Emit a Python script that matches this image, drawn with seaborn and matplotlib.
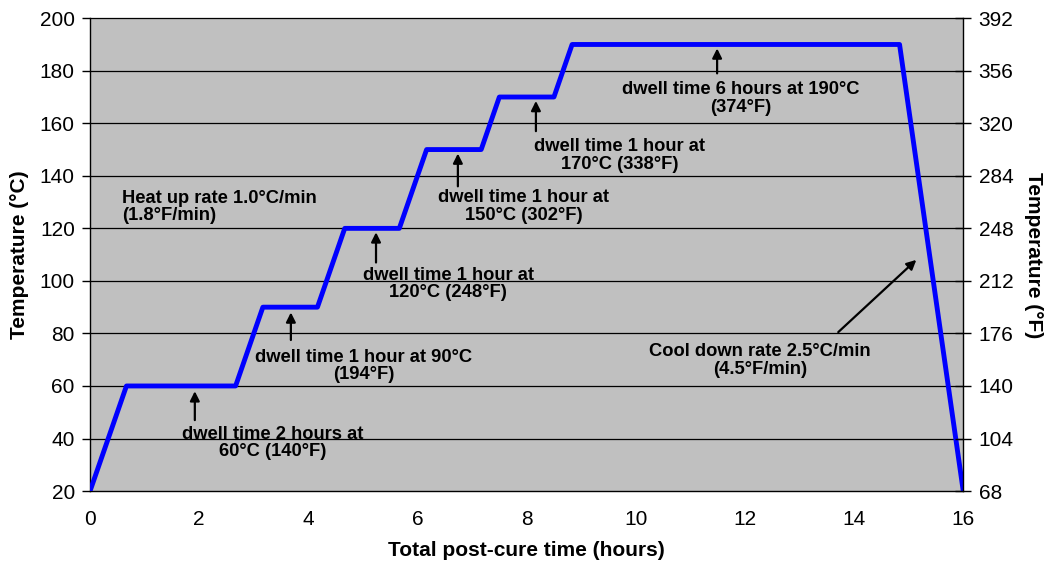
import matplotlib
matplotlib.use("Agg")
import matplotlib.pyplot as plt
import seaborn as sns
import pandas as pd
import numpy as np

# Data
time_h = [0, 0.667, 2.667, 3.167, 4.167, 4.667, 5.667, 6.167, 7.167, 7.5, 8.5, 8.833, 14.833, 16.0]
temp_c = [20, 60, 60, 90, 90, 120, 120, 150, 150, 170, 170, 190, 190, 20]
yticks_c = [20, 40, 60, 80, 100, 120, 140, 160, 180, 200]
yticks_f = [68, 104, 140, 176, 212, 248, 284, 320, 356, 392]
xticks = [0, 2, 4, 6, 8, 10, 12, 14, 16]

# annotations: text, text position, arrow tail, arrow head
notes = [
    ("dwell time 2 hours at\n60°C (140°F)", (3.34, 38.3), (1.92, 47), (1.92, 58)),
    ("dwell time 1 hour at 90°C\n(194°F)", (5.02, 67.6), (3.68, 77.5), (3.68, 88)),
    ("dwell time 1 hour at\n120°C (248°F)", (6.56, 98.8), (5.24, 107), (5.24, 118.5)),
    ("dwell time 1 hour at\n150°C (302°F)", (7.94, 128.4), (6.74, 136), (6.74, 148.5)),
    ("dwell time 1 hour at\n170°C (338°F)", (9.7, 147.7), (8.17, 157), (8.17, 168.5)),
    ("dwell time 6 hours at 190°C\n(374°F)", (11.93, 169.4), (11.49, 179), (11.49, 188.5)),
    ("Cool down rate 2.5°C/min\n(4.5°F/min)", (12.28, 69.8), (13.71, 80.5), (15.14, 108)),
]
heat_text = "Heat up rate 1.0°C/min\n(1.8°F/min)"

sns.set_style("white")
plt.rcParams['font.family'] = ['Liberation Sans', 'DejaVu Sans']
plt.rcParams['text.color'] = 'black'
plt.rcParams['axes.labelcolor'] = 'black'
plt.rcParams['xtick.color'] = 'black'
plt.rcParams['ytick.color'] = 'black'

fig = plt.figure(figsize=(10.47, 5.69), dpi=100)
ax = fig.add_axes([0.086, 0.137, 0.834, 0.831])
ax.set_facecolor("#C0C0C0")

df = pd.DataFrame({"t": time_h, "T": temp_c})
sns.lineplot(data=df, x="t", y="T", ax=ax, color="#0000FF", linewidth=3.5, sort=False, zorder=3)

ax.set_xlim(0, 16)
ax.set_ylim(20, 200)
ax.set_xticks(xticks)
ax.set_yticks(yticks_c)
for y in yticks_c[1:]:
    ax.axhline(y, color="black", linewidth=0.9, zorder=1, clip_on=False)

for sp in ["top", "right"]:
    ax.spines[sp].set_visible(False)
for sp in ["left", "bottom"]:
    ax.spines[sp].set_color("black")
    ax.spines[sp].set_linewidth(1.0)

ax.tick_params(axis="both", direction="out", length=6, width=1, labelsize=15,
               colors="black", labelcolor="black")
ax.tick_params(axis="x", pad=8)
ax.tick_params(axis="y", pad=5)
ax.set_xlabel("Total post-cure time (hours)", fontsize=15, fontweight="bold", labelpad=8, color="black")
ax.set_ylabel("Temperature (°C)", fontsize=15, fontweight="bold", labelpad=8, color="black")

ax2 = ax.twinx()
ax2.set_ylim(68, 392)
ax2.set_yticks(yticks_f)
for sp in ["top", "left", "bottom"]:
    ax2.spines[sp].set_visible(False)
ax2.spines["right"].set_color("black")
ax2.spines["right"].set_linewidth(1.0)
ax2.tick_params(axis="y", direction="inout", length=12, width=1, labelsize=15,
                colors="black", labelcolor="black", pad=5)
ax2.set_ylabel("Temperature (°F)", fontsize=15, fontweight="bold", rotation=-90,
               labelpad=21, color="black")

for txt, tpos, tail, head in notes:
    ax.text(tpos[0], tpos[1], txt, ha="center", va="center", fontsize=13.2,
            fontweight="bold", linespacing=1.05, zorder=5, color="black")
    ax.annotate("", xy=head, xytext=tail,
                arrowprops=dict(arrowstyle="-|>", color="black", lw=1.6,
                                mutation_scale=14, shrinkA=0, shrinkB=0), zorder=5)

ax.text(0.59, 128.1, heat_text, ha="left", va="center", fontsize=13.2,
        fontweight="bold", linespacing=1.05, zorder=5, color="black")

fig.savefig("out.png", dpi=100)
